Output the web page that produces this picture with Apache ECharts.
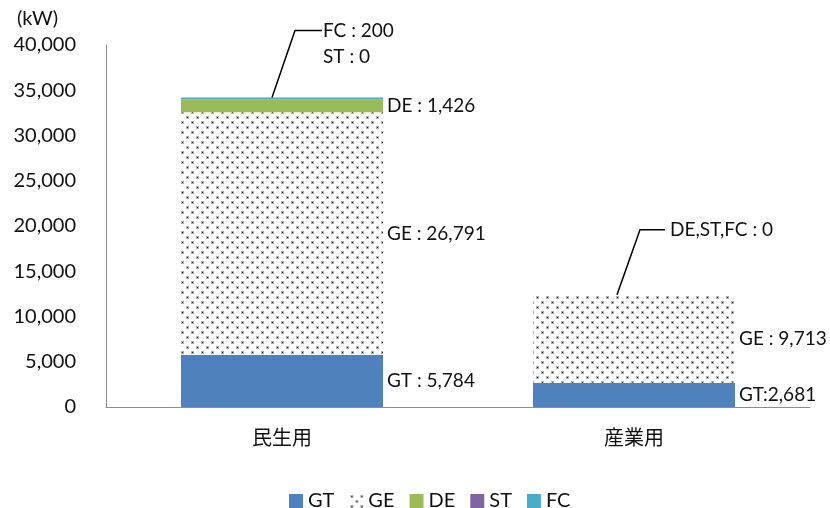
<!DOCTYPE html>
<html>
<head>
<meta charset="utf-8">
<script src="https://cdn.jsdelivr.net/npm/echarts@6/dist/echarts.min.js"></script>
<style>
  html, body { margin: 0; padding: 0; background: #fff; }
  #chart { width: 830px; height: 508px; }
</style>
</head>
<body>
<div id="chart"></div>
<script>
// Installed capacity by use (kW)
const categories = ['民生用', '産業用'];
const gtValues = [5784, 2681];
const geValues = [26791, 9713];
const deValues = [1426, 0];
const stValues = [0, 0];
const fcValues = [200, 0];
const seriesNames = ['GT', 'GE', 'DE', 'ST', 'FC'];
const axisUnit = '(kW)';
const yMin = 0, yMax = 40000, yStep = 5000;

// Which segments carry a value label beside the bar
const inlineLabelShown = {
  GT: [true, true],
  GE: [true, true],
  DE: [true, false],
  ST: [false, false],
  FC: [false, false]
};
const gtSeparators = [' : ', ':'];

const totals = categories.map((_, i) =>
  gtValues[i] + geValues[i] + deValues[i] + stValues[i] + fcValues[i]);

// Callout texts for the segments too thin to label in place
const calloutTexts = [
  `FC : ${fcValues[0]}\nST : ${stValues[0]}`,
  `DE,ST,FC : ${deValues[1]}`
];

const fmt = v => v.toLocaleString('en-US');
const FONT = 'Lato, "Noto Sans", sans-serif';

// Dotted fill used for the GE segments (staggered dot grid)
function dotPattern() {
  const c = document.createElement('canvas');
  c.width = 10; c.height = 10;
  const g = c.getContext('2d');
  g.fillStyle = '#ffffff';
  g.fillRect(0, 0, 10, 10);
  const dot = (x, y) => {
    g.fillStyle = 'rgba(110,110,110,0.55)';
    g.fillRect(x - 1, y - 1, 3, 3);
    g.fillStyle = 'rgba(20,20,20,0.95)';
    g.fillRect(x, y, 1, 1);
  };
  dot(2, 2);
  dot(7, 7);
  return { image: c, repeat: 'repeat' };
}

const colors = {
  GT: '#4F81BD',
  GE: dotPattern(),
  DE: '#9BBB59',
  ST: '#8064A2',
  FC: '#4BACC6'
};
const valueSets = { GT: gtValues, GE: geValues, DE: deValues, ST: stValues, FC: fcValues };

const barSeries = seriesNames.map(name => ({
  name,
  type: 'bar',
  stack: 'total',
  barWidth: 202,
  itemStyle: { color: colors[name] },
  data: valueSets[name].map((v, i) => ({
    value: v,
    label: {
      show: inlineLabelShown[name][i],
      position: 'right',
      distance: 4,
      fontFamily: FONT,
      fontSize: 19,
      color: '#111',
      formatter: p => {
        const sep = name === 'GT' ? gtSeparators[i] : ' : ';
        return name + sep + fmt(p.value);
      }
    }
  }))
}));

// Leader-line geometry (pixel offsets from the top of each stacked bar)
const calloutShape = [
  { start: -10, elbow: [13, -67], end: 40, text: 41 },
  { start: -17, elbow: [6, -65], end: 31, text: 36 }
];

const calloutSeries = {
  type: 'custom',
  silent: true,
  z: 10,
  data: totals.map((t, i) => [i, t]),
  renderItem: (params, api) => {
    const i = params.dataIndex;
    const top = api.coord([api.value(0), api.value(1)]);
    const s = calloutShape[i];
    const ey = top[1] + s.elbow[1];
    return {
      type: 'group',
      children: [
        {
          type: 'polyline',
          shape: { points: [[top[0] + s.start, top[1]], [top[0] + s.elbow[0], ey], [top[0] + s.end, ey]] },
          style: { stroke: '#000', lineWidth: 1.5, fill: null }
        },
        {
          type: 'text',
          x: top[0] + s.text,
          y: ey - 13,
          style: {
            text: calloutTexts[i],
            fontFamily: FONT,
            fontSize: 19,
            lineHeight: 26,
            fill: '#111',
            verticalAlign: 'top',
            align: 'left'
          }
        }
      ]
    };
  }
};

const chart = echarts.init(document.getElementById('chart'), null, { renderer: 'canvas' });
chart.setOption({
  animation: false,
  backgroundColor: '#ffffff',
  title: {
    text: axisUnit,
    left: 12,
    top: 4,
    textStyle: { fontFamily: FONT, fontSize: 20, fontWeight: 'normal', color: '#111' }
  },
  grid: { left: 106, right: 20, top: 45, bottom: 101 },
  legend: {
    data: seriesNames,
    top: 486,
    left: 284,
    icon: 'rect',
    itemWidth: 14,
    itemHeight: 14,
    itemGap: 15,
    textStyle: { fontFamily: FONT, fontSize: 20, color: '#111' }
  },
  xAxis: {
    type: 'category',
    data: categories,
    axisLine: { lineStyle: { color: '#8c8c8c', width: 1 } },
    axisTick: { show: false },
    axisLabel: {
      margin: 20,
      fontFamily: '"Noto Sans CJK JP", sans-serif',
      fontSize: 20,
      color: '#111'
    }
  },
  yAxis: {
    type: 'value',
    min: yMin,
    max: yMax,
    interval: yStep,
    splitLine: { show: false },
    axisLine: { show: true, lineStyle: { color: '#8c8c8c', width: 1 } },
    axisTick: { show: false },
    axisLabel: {
      margin: 30,
      fontFamily: FONT,
      fontSize: 20,
      color: '#111',
      formatter: v => fmt(v)
    }
  },
  series: [...barSeries, calloutSeries]
});
</script>
</body>
</html>
